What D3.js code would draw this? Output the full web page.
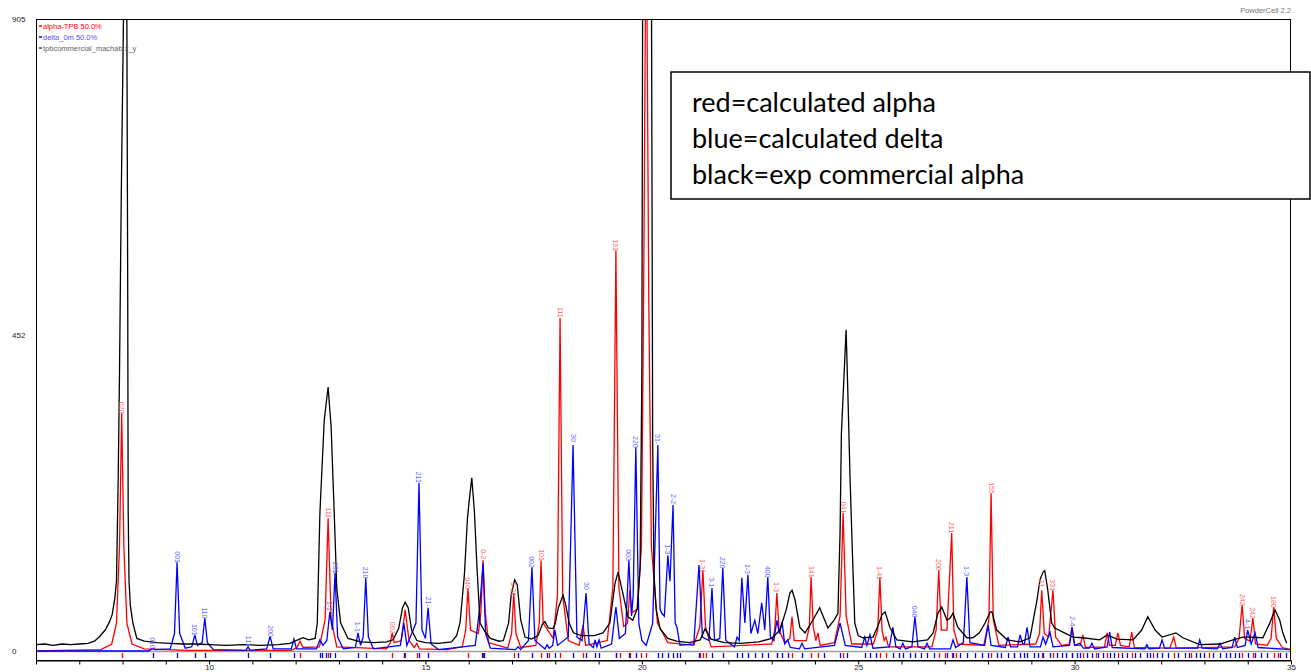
<!DOCTYPE html>
<html>
<head>
<meta charset="utf-8">
<script src="https://cdn.jsdelivr.net/npm/d3@7"></script>
<style>
  html, body { margin: 0; padding: 0; background: #fff; }
  svg { display: block; }
  .small { font-family: "Liberation Sans", Arial, sans-serif; font-size: 8px; }
</style>
</head>
<body>
<svg id="chart" width="1311" height="672"></svg>
<script>
// 2-theta range and intensity scale of the diffraction pattern
const twoThetaDomain = [6, 35];
const intensityMax = 905;
const yTickValues = [0, 452, 905];
const xTickValues = d3.range(6, 36);
const xTickLabels = [10, 15, 20, 25, 30, 35];

// calculated alpha-TPB pattern [2theta, intensity]
const alphaCalc = [
  [6.0,0],[7.5,2],[7.75,10],[7.86,40],[7.93,150],[7.98,341],[8.03,150],[8.10,40],[8.22,10],[8.5,3],[9.5,1],
  [11.9,1],[12.03,5],[12.10,14],[12.17,5],
  [12.55,6],[12.68,45],[12.75,190],[12.82,45],[12.95,6],
  [14.1,3],[14.19,12],[14.23,26],[14.28,12],
  [14.44,15],[14.53,59],[14.62,15],
  [14.74,5],[14.80,11],[14.86,3],[15.5,2],
  [15.85,6],[15.93,30],[15.98,90],[16.04,30],
  [16.22,25],[16.28,55],[16.33,130],[16.38,55],[16.46,12],
  [16.9,4],[16.99,25],[17.04,83],[17.09,25],[17.2,5],
  [17.55,8],[17.63,40],[17.67,130],[17.72,40],
  [17.95,18],[18.05,80],[18.11,477],[18.17,80],[18.3,15],
  [18.55,8],[18.64,37],[18.70,8],
  [19.2,15],[19.33,90],[19.40,574],[19.47,90],[19.58,35],[19.67,40],[19.72,87],[19.77,55],[19.9,60],
  [19.99,150],[20.04,500],[20.10,1100],[20.16,500],[20.22,150],[20.36,40],[20.6,12],
  [21.2,8],[21.34,35],[21.41,116],[21.47,35],[21.6,6],
  [23.0,10],[23.07,30],[23.12,83],[23.17,30],[23.30,12],
  [23.42,18],[23.47,49],[23.52,15],
  [23.80,15],[23.87,35],[23.91,106],[23.96,35],[24.02,15],[24.07,26],[24.12,8],
  [24.45,12],[24.58,50],[24.65,198],[24.72,50],[24.85,10],
  [25.35,10],[25.45,30],[25.50,106],[25.55,30],[25.60,15],[25.64,20],[25.70,6],
  [26.7,6],[26.80,30],[26.86,116],[26.92,30],[27.05,30],[27.16,169],[27.21,30],[27.3,10],
  [27.9,8],[28.02,45],[28.07,226],[28.12,45],[28.25,8],
  [29.1,10],[29.19,25],[29.24,87],[29.30,25],[29.40,20],[29.50,87],[29.56,20],[29.7,8],
  [29.88,10],[29.94,34],[30.00,8],[30.13,8],[30.19,23],[30.25,5],
  [30.69,6],[30.75,26],[30.81,8],[30.94,8],[31.00,26],[31.06,8],[31.26,6],[31.32,27],[31.38,5],
  [32.2,4],[32.29,20],[32.35,4],
  [33.70,6],[33.80,18],[33.87,66],[33.93,18],[34.05,14],[34.12,47],[34.18,10],
  [34.45,8],[34.54,18],[34.60,63],[34.66,18],[34.8,5],[35.0,2]
];

// calculated delta pattern [2theta, intensity]
const deltaCalc = [
  [6.0,0],[8.6,0],[8.65,2],[8.70,4],[8.75,2],
  [9.1,3],[9.2,25],[9.26,127],[9.32,25],[9.45,4],
  [9.60,6],[9.67,23],[9.73,8],[9.84,12],[9.90,47],[9.96,12],[10.1,2],
  [10.85,1],[10.90,6],[10.95,1],
  [11.33,3],[11.41,21],[11.48,3],
  [11.90,3],[11.96,17],[12.02,3],
  [12.48,3],[12.56,16],[12.63,8],[12.72,15],[12.79,56],[12.85,30],[12.91,112],[12.97,20],[13.1,3],
  [13.38,5],[13.44,26],[13.50,8],[13.56,20],[13.62,105],[13.68,20],[13.8,3],
  [14.42,8],[14.50,40],[14.57,8],[14.78,40],[14.85,241],[14.92,30],[15.00,18],[15.06,62],[15.13,10],[15.3,2],
  [16.15,8],[16.25,60],[16.30,100],[16.33,126],[16.39,25],[16.5,4],
  [17.08,2],[17.14,6],[17.20,2],[17.38,15],[17.46,120],[17.53,15],
  [17.76,3],[17.81,9],[17.86,4],[17.94,8],[17.99,30],[18.05,8],
  [18.30,20],[18.41,295],[18.50,20],[18.62,15],[18.71,83],[18.78,10],
  [18.88,5],[18.92,16],[18.96,6],[19.01,16],[19.06,4],
  [19.30,10],[19.40,63],[19.48,18],[19.62,25],[19.70,130],[19.76,50],[19.80,80],[19.86,292],[19.93,40],[20.0,15],
  [20.10,8],[20.25,40],[20.37,295],[20.42,60],[20.46,54],[20.52,50],[20.60,137],[20.65,100],[20.72,209],[20.77,40],[20.81,34],[20.88,8],
  [21.2,10],[21.32,123],[21.40,20],[21.55,15],[21.62,90],[21.68,15],[21.80,18],[21.87,119],[21.94,15],
  [22.14,6],[22.20,20],[22.25,15],[22.31,105],[22.38,40],[22.45,109],[22.52,25],[22.61,44],[22.68,25],[22.77,69],[22.84,30],
  [22.91,106],[22.97,20],[23.05,15],[23.12,44],[23.18,25],[23.24,42],[23.30,10],[23.37,16],[23.43,5],
  [23.64,3],[23.70,11],[23.76,3],
  [24.45,8],[24.58,40],[24.70,8],
  [25.08,5],[25.15,20],[25.20,8],[25.27,23],[25.34,4],
  [25.72,6],[25.80,34],[25.87,6],[25.97,3],[26.03,11],[26.09,3],
  [26.24,6],[26.31,49],[26.38,6],[26.53,3],[26.59,11],[26.65,3],
  [27.13,3],[27.19,16],[27.25,5],[27.43,12],[27.51,106],[27.58,12],
  [27.92,8],[28.00,37],[28.07,8],
  [28.40,5],[28.46,20],[28.52,6],[28.68,6],[28.74,23],[28.80,10],[28.84,10],[28.90,34],[28.97,6],
  [29.21,6],[29.27,20],[29.33,10],[29.43,27],[29.50,6],
  [29.88,8],[29.94,34],[30.00,8],[30.12,11],[30.20,4],[30.34,4],[30.40,11],[30.46,3],
  [30.75,6],[30.81,27],[30.87,5],
  [31.62,3],[31.67,9],[31.72,3],[31.96,4],[32.02,16],[32.08,4],
  [32.84,4],[32.89,16],[32.95,4],[33.30,3],[33.36,11],[33.42,3],
  [33.64,5],[33.70,20],[33.76,5],[33.94,8],[34.00,30],[34.08,10],[34.17,26],[34.24,5],[35.0,2]
];

// measured commercial alpha pattern [2theta, counts]
const commercialExp = [
  [6.00,9],[6.2,10],[6.4,8],[6.6,10],[6.8,9],[7.0,10],[7.2,11],[7.35,14],[7.46,20],[7.6,30],[7.70,42],[7.76,52],
  [7.82,75],[7.86,100],[7.90,250],[7.93,400],[7.97,650],[8.02,900],[8.06,1400],[8.10,900],[8.12,500],[8.13,200],
  [8.15,100],[8.18,65],[8.24,40],[8.33,18],[8.5,14],[8.8,12],[9.1,11],[9.4,10],[9.7,10],[10.0,9],[10.4,8],[10.8,9],[11.2,8],[11.6,9],
  [11.87,11],[12.05,16],[12.17,19],[12.30,16],[12.45,18],[12.50,40],[12.56,197],[12.66,330],[12.75,378],[12.82,320],
  [12.89,200],[12.95,90],[13.04,40],[13.21,18],[13.5,13],[13.8,12],[14.1,13],[14.25,16],[14.38,32],[14.47,62],
  [14.53,70],[14.60,62],[14.68,30],[14.80,15],[15.0,12],[15.3,11],[15.6,13],[15.72,22],[15.80,41],[15.90,110],
  [15.97,190],[16.01,215],[16.07,248],[16.13,200],[16.19,120],[16.26,40],[16.37,28],[16.50,18],[16.70,14],[16.80,15],
  [16.92,40],[16.98,80],[17.06,102],[17.12,95],[17.20,45],[17.30,20],[17.45,17],[17.60,22],[17.70,38],[17.76,42],
  [17.84,33],[17.95,32],[18.00,40],[18.07,62],[18.18,80],[18.24,66],[18.32,40],[18.42,26],[18.60,22],[18.90,22],
  [19.10,26],[19.26,40],[19.38,97],[19.45,113],[19.56,83],[19.68,49],[19.79,44],[19.89,60],[19.96,120],[20.00,400],
  [20.02,1000],[20.12,1800],[20.22,1000],[20.25,300],[20.28,110],[20.33,60],[20.42,32],[20.6,18],[20.8,14],
  [21.1,12],[21.35,16],[21.46,32],[21.60,17],[21.9,12],[22.27,11],[22.7,13],[23.00,18],[23.19,30],[23.34,60],
  [23.42,83],[23.47,87],[23.54,73],[23.65,34],[23.77,26],[23.95,44],[24.11,62],[24.20,48],[24.30,33],[24.45,45],
  [24.53,54],[24.58,170],[24.61,310],[24.65,365],[24.72,460],[24.76,370],[24.81,250],[24.86,150],[24.92,40],[25.00,22],
  [25.11,19],[25.34,20],[25.45,35],[25.55,52],[25.62,56],[25.73,34],[25.89,16],[26.26,13],[26.6,16],[26.73,26],
  [26.84,54],[26.93,63],[27.05,44],[27.12,47],[27.19,54],[27.30,34],[27.51,19],[27.65,19],[27.80,26],[27.93,40],
  [28.05,56],[28.09,56],[28.20,30],[28.44,16],[28.74,13],[28.97,19],[29.13,73],[29.20,102],[29.27,113],[29.31,115],
  [29.38,87],[29.47,40],[29.54,33],[29.73,27],[29.96,20],[30.19,19],[30.58,16],[30.75,23],[30.98,17],[31.35,16],
  [31.55,30],[31.69,49],[31.86,30],[32.02,20],[32.34,26],[32.50,19],[32.89,9],[33.36,10],[33.66,16],[33.89,20],
  [34.00,20],[34.35,19],[34.51,40],[34.63,59],[34.74,44],[34.81,26],[34.90,11]
];

// reflection positions (2theta) of each calculated phase
const alphaReflections = [
  7.98, 12.10, 12.75, 14.23, 14.53, 14.80, 15.98, 16.33, 17.04, 17.67, 17.85, 18.11, 18.64, 19.40, 19.50,
  19.72, 19.97, 20.10, 21.35, 21.41, 21.48, 23.12, 23.47, 23.91, 24.07, 24.65, 25.50, 25.64, 26.86, 27.0,
  27.16, 27.25, 28.07, 28.6, 29.24, 29.50, 29.94, 30.19, 30.5, 30.75, 31.00, 31.32, 31.8, 32.29, 32.7,
  33.1, 33.87, 34.12, 34.60, 34.7
];
const deltaReflections = [
  8.70, 9.26, 9.67, 9.90, 10.90, 11.41, 11.96, 12.56, 12.62, 12.70, 12.79, 12.91, 13.44, 13.62, 14.50, 14.85,
  15.06, 16.30, 16.36, 17.14, 17.46, 17.81, 17.99, 18.41, 18.71, 18.92, 19.01, 19.40, 19.70, 19.86, 20.37,
  20.46, 20.60, 20.72, 20.81, 20.88, 21.32, 21.62, 21.87, 22.20, 22.31, 22.45, 22.61, 22.77, 22.91, 23.12,
  23.24, 23.37, 23.70, 24.20, 24.58, 24.75, 25.15, 25.27, 25.40, 25.80, 25.95, 26.03, 26.20, 26.31, 26.45,
  26.59, 26.75, 27.05, 27.19, 27.35, 27.51, 27.70, 27.85, 28.00, 28.20, 28.30, 28.46, 28.60, 28.74, 28.82,
  28.90, 29.05, 29.15, 29.27, 29.43, 29.60, 29.70, 29.80, 29.94, 30.05, 30.12, 30.28, 30.40, 30.55, 30.65,
  30.81, 30.92, 31.10, 31.20, 31.40, 31.50, 31.67, 31.75, 31.90, 32.02, 32.15, 32.40, 32.55, 32.65, 32.80,
  32.89, 33.00, 33.20, 33.36, 33.50, 33.60, 33.70, 33.80, 34.00, 34.17, 34.30, 34.45, 34.75, 34.88
];

// Miller-index labels at peak tops: [phase, 2theta, intensity, hkl]
const peakLabels = [
  ["a", 7.98, 341, "020"], ["a", 12.75, 190, "111"], ["a", 14.23, 26, "002"], ["a", 15.98, 90, "040"],
  ["a", 16.33, 130, "0-2"], ["a", 17.04, 83, "1-21"], ["a", 17.67, 130, "101"], ["a", 18.11, 477, "111"],
  ["a", 19.40, 574, "131"], ["a", 21.41, 116, "1-31"], ["a", 23.12, 83, "1-3"], ["a", 23.91, 106, "141"],
  ["a", 24.65, 198, "041"], ["a", 25.50, 106, "1-41"], ["a", 26.86, 116, "200"], ["a", 27.16, 169, "211"],
  ["a", 28.07, 226, "155"], ["a", 29.24, 87, "21"], ["a", 29.50, 87, "331"], ["a", 33.87, 66, "242"],
  ["a", 34.12, 47, "242"], ["a", 34.60, 63, "180"],
  ["d", 8.70, 4, "010"], ["d", 9.26, 127, "001"], ["d", 9.67, 23, "101"], ["d", 9.90, 47, "110"],
  ["d", 10.90, 6, "111"], ["d", 11.41, 21, "200"], ["d", 12.91, 112, "201"], ["d", 12.79, 56, "1-1"],
  ["d", 13.62, 105, "210"], ["d", 13.44, 26, "1-1"], ["d", 14.85, 241, "211"], ["d", 15.06, 62, "21-"],
  ["d", 17.46, 120, "002"], ["d", 18.41, 295, "30"], ["d", 18.71, 83, "30"], ["d", 19.70, 130, "003"],
  ["d", 19.86, 292, "220"], ["d", 20.37, 295, "31-"], ["d", 20.72, 209, "2-2"], ["d", 20.60, 137, "1-3"],
  ["d", 21.62, 90, "3-1"], ["d", 21.87, 119, "220"], ["d", 22.45, 109, "1-3"], ["d", 22.91, 106, "400"],
  ["d", 26.31, 49, "040"], ["d", 27.51, 106, "1-3"], ["d", 29.94, 34, "2-4"], ["d", 34.00, 30, "4-1"]
];

const legendItems = [
  { text: "alpha-TPB  50.0%", color: "#ff0000", lineColor: "#ff0000" },
  { text: "delta_0m  50.0%", color: "#5050ff", lineColor: "#0000ff" },
  { text: "tpbcommercial_machab x_y", color: "#666666", lineColor: "#444444" }
];
const noteLines = ["red=calculated alpha", "blue=calculated delta", "black=exp commercial alpha"];

const svg = d3.select("#chart");
const plotLeft = 36, plotRight = 1291, plotTop = 19, zeroY = 651, axisY = 660;

const x = d3.scaleLinear().domain(twoThetaDomain).range([plotLeft, plotRight]);
const y = d3.scaleLinear().domain([0, intensityMax]).range([zeroY, plotTop]);

svg.append("defs").append("clipPath").attr("id", "plotClip")
  .append("rect").attr("x", plotLeft).attr("y", plotTop)
  .attr("width", plotRight - plotLeft).attr("height", axisY - plotTop);

// zero line and reflection row
svg.append("line").attr("x1", plotLeft).attr("x2", plotRight).attr("y1", zeroY + 0.5).attr("y2", zeroY + 0.5)
  .attr("stroke", "#a0a0a0").attr("stroke-width", 1.5);

const refl = svg.append("g").attr("clip-path", "url(#plotClip)");
refl.selectAll(".ra").data(alphaReflections).join("line")
  .attr("x1", d => Math.round(x(d)) + 0.5).attr("x2", d => Math.round(x(d)) + 0.5)
  .attr("y1", 653).attr("y2", 658).attr("stroke", "#ff0000").attr("stroke-width", 1.3);
refl.selectAll(".rd").data(deltaReflections).join("line")
  .attr("x1", d => Math.round(x(d)) + 0.5).attr("x2", d => Math.round(x(d)) + 0.5)
  .attr("y1", 653).attr("y2", 658).attr("stroke", "#0000ff").attr("stroke-width", 1.3);

// patterns
const line = d3.line().x(d => x(d[0])).y(d => y(d[1]));
const curves = svg.append("g").attr("clip-path", "url(#plotClip)").attr("fill", "none");
curves.append("path").datum(alphaCalc).attr("d", line).attr("stroke", "#ff0000").attr("stroke-width", 1.3);
curves.append("path").datum(deltaCalc).attr("d", line).attr("stroke", "#0000ff").attr("stroke-width", 1.3);
curves.append("path").datum(commercialExp).attr("d", line).attr("stroke", "#000000").attr("stroke-width", 1.3);

// hkl labels
svg.append("g").attr("clip-path", "url(#plotClip)")
  .selectAll("text").data(peakLabels).join("text")
  .attr("class", "small")
  .style("font-size", "7px")
  .attr("fill", d => d[0] === "a" ? "#ff6a6a" : "#6a6aff")
  .attr("transform", d => `translate(${x(d[1]) - 2.5},${y(d[2]) - 11}) rotate(90)`)
  .text(d => d[3]);

// frame
svg.append("rect").attr("x", plotLeft + 0.5).attr("y", plotTop + 0.5)
  .attr("width", plotRight - plotLeft - 1).attr("height", axisY - plotTop)
  .attr("fill", "none").attr("stroke", "#000").attr("stroke-width", 1);

// x axis
const xAxis = d3.axisBottom(x).tickValues(xTickValues).tickSize(4).tickSizeOuter(0).tickPadding(0)
  .tickFormat(d => xTickLabels.includes(d) ? d : "");
const gx = svg.append("g").attr("transform", `translate(0,${axisY + 0.5})`).call(xAxis);
gx.select(".domain").attr("stroke", "#000");
gx.selectAll(".tick line").attr("stroke", "#000");
gx.selectAll(".tick text").attr("class", "small").attr("fill", "#222").style("font-size", "8px");

// y labels
svg.append("g").selectAll("text").data(yTickValues).join("text")
  .attr("class", "small").attr("x", 12).attr("y", d => y(d)).attr("dy", "0.35em")
  .attr("fill", "#222").text(d => d);

// legend
const lg = svg.append("g");
legendItems.forEach((it, i) => {
  const ly = 26 + i * 11;
  lg.append("line").attr("x1", 39).attr("x2", 42).attr("y1", ly).attr("y2", ly)
    .attr("stroke", it.lineColor).attr("stroke-width", 1.5);
  lg.append("text").attr("class", "small").attr("x", 43).attr("y", ly).attr("dy", "0.35em")
    .style("font-size", "7.5px").attr("fill", it.color).text(it.text);
});

svg.append("text").attr("class", "small").attr("x", 1291).attr("y", 13)
  .attr("text-anchor", "end").attr("fill", "#777").style("font-size", "7.5px").text("PowderCell 2.2");

// annotation box
const box = svg.append("g");
box.append("rect").attr("x", 671).attr("y", 72).attr("width", 639).attr("height", 127)
  .attr("fill", "#fff").attr("stroke", "#000").attr("stroke-width", 1.5);
box.selectAll("text").data(noteLines).join("text")
  .attr("x", 692).attr("y", (d, i) => 112 + i * 36)
  .style("font-family", "Lato, 'Open Sans', sans-serif").style("font-size", "27px")
  .attr("fill", "#000").text(d => d);
</script>
</body>
</html>
